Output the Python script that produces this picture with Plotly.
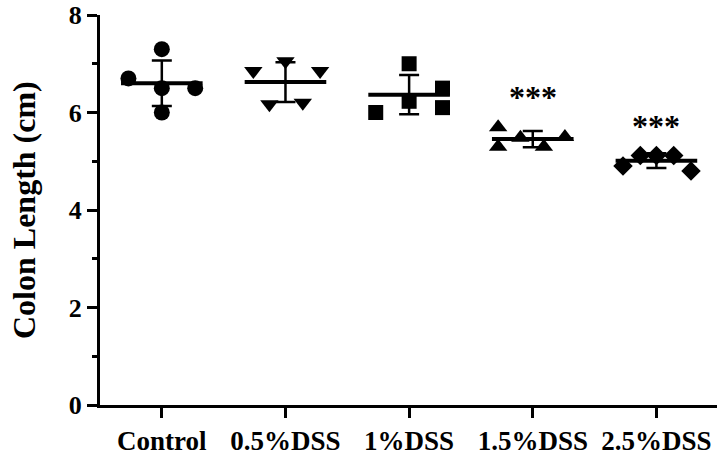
import numpy as np
import plotly.graph_objects as go

categories = ["Control", "0.5%DSS", "1%DSS", "1.5%DSS", "2.5%DSS"]
control = [7.3, 6.7, 6.5, 6.5, 6.0]
dss_05 = [7.05, 6.85, 6.85, 6.17, 6.2]
dss_1 = [7.0, 6.5, 6.1, 6.0, 6.23]
dss_15 = [5.7, 5.3, 5.48, 5.3, 5.5]
dss_25 = [4.9, 5.12, 5.12, 5.12, 4.8]
significance = ["", "", "", "***", "***"]
y_ticks = [0, 2, 4, 6, 8]
y_title = "Colon Length (cm)"

groups = [control, dss_05, dss_1, dss_15, dss_25]

# horizontal spread of the dots inside each column (style)
jitter = [
    [0, -0.27, 0, 0.27, 0],
    [0, -0.26, 0.28, -0.13, 0.14],
    [0, 0.27, 0.27, -0.27, 0],
    [-0.28, -0.28, -0.1, 0.09, 0.26],
    [-0.27, -0.13, 0, 0.14, 0.28],
]
symbols = ["circle", "triangle-down", "square", "triangle-up", "diamond"]
sizes = [16, 16, 15, 16, 15]

FONT = "Liberation Serif"
fig = go.Figure()

for i, vals in enumerate(groups):
    v = np.array(vals)
    xs = [i + j for j in jitter[i]]
    fig.add_trace(go.Scatter(
        x=xs, y=v, mode="markers",
        marker=dict(symbol=symbols[i], size=sizes[i], color="black", line=dict(width=0)),
        showlegend=False, hoverinfo="y"))
    m = v.mean()
    sd = v.std(ddof=1)
    # mean line
    fig.add_trace(go.Scatter(
        x=[i - 0.33, i + 0.33], y=[m, m], mode="lines",
        line=dict(color="black", width=4), showlegend=False, hoverinfo="skip"))
    # SD error bar
    fig.add_trace(go.Scatter(
        x=[i], y=[m], mode="markers", marker=dict(size=1, color="rgba(0,0,0,0)"),
        error_y=dict(type="data", array=[sd], visible=True, color="black",
                     thickness=2.5, width=10),
        showlegend=False, hoverinfo="skip"))
    if significance[i]:
        fig.add_annotation(x=i, y=v.max() + 0.2, text=significance[i],
                           showarrow=False, yanchor="bottom",
                           font=dict(family=FONT, size=32, color="black", weight=700))

# y-axis title
fig.add_annotation(xref="paper", yref="paper", x=-76 / 617, y=0.5,
                   text=y_title, textangle=-90, showarrow=False,
                   xanchor="center", yanchor="middle",
                   font=dict(family=FONT, size=32, color="black", weight=700))

fig.update_layout(
    width=717, height=456,
    margin=dict(l=100, r=0, t=15, b=51),
    plot_bgcolor="white", paper_bgcolor="white",
    font=dict(family=FONT, color="black", weight=700),
    xaxis=dict(
        range=[-0.5, 4.49], tickmode="array", tickvals=list(range(len(categories))),
        ticktext=categories, showgrid=False, zeroline=False,
        showline=True, linecolor="black", linewidth=3,
        ticks="outside", ticklen=10, tickwidth=3, tickcolor="black",
        tickfont=dict(family=FONT, size=27, color="black", weight=700),
    ),
    yaxis=dict(
        range=[0, 8], tickmode="array", tickvals=y_ticks, showgrid=False, zeroline=False,
        showline=True, linecolor="black", linewidth=3,
        ticks="outside", ticklen=10, tickwidth=3, tickcolor="black",
        tickfont=dict(family=FONT, size=26, color="black", weight=700),
        minor=dict(dtick=1, ticks="outside", ticklen=5, tickwidth=3, tickcolor="black", showgrid=False),
    ),
)

fig.write_html("out.html")
